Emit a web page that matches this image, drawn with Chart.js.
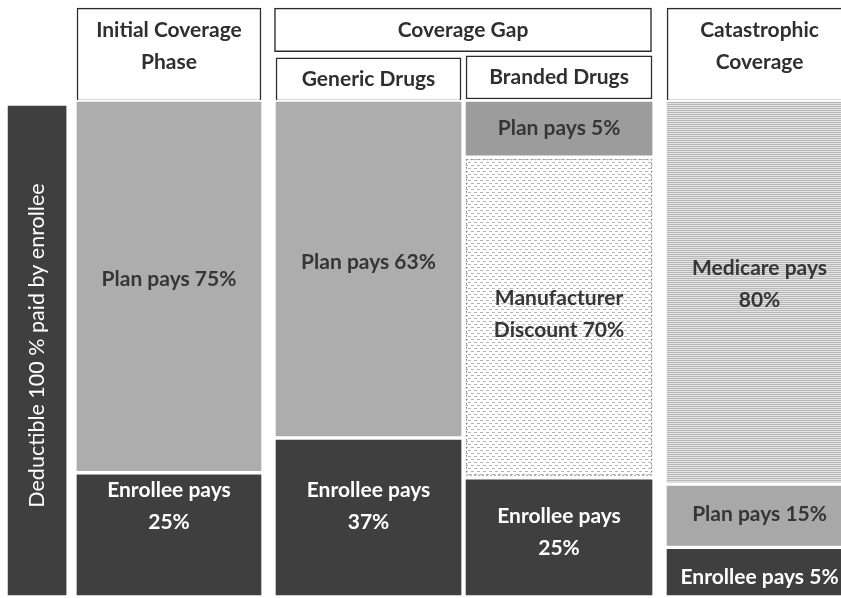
<!DOCTYPE html>
<html>
<head>
<meta charset="utf-8">
<script src="https://cdn.jsdelivr.net/npm/chart.js@4.4.0/dist/chart.umd.min.js"></script>
<style>
html, body { margin: 0; padding: 0; background: #fff; }
#wrap { width: 841px; height: 598px; position: relative; }
</style>
</head>
<body>
<div id="wrap"><canvas id="myChart"></canvas></div>
<script>
// columns, left to right
const columns = ['Deductible', 'Initial Coverage Phase', 'Generic Drugs', 'Branded Drugs', 'Catastrophic Coverage'];

// segment heights, bottom to top (share of the bar height)
const deductibleSeg = [99.2];
const initialSeg = [25, 75];
const genericSeg = [32, 68];
const brandedSeg = [24, 64.5, 11.5];
const catastrophicSeg = [10, 12.7, 77.3];

// texts written on the segments, same order
const deductibleText = [['Deductible 100 % paid by enrollee']];
const initialText = [['Enrollee pays', '25%'], ['Plan pays 75%']];
const genericText = [['Enrollee pays', '37%'], ['Plan pays 63%']];
const brandedText = [['Enrollee pays', '25%'], ['Manufacturer', 'Discount 70%'], ['Plan pays 5%']];
const catastrophicText = [['Enrollee pays 5%'], ['Plan pays 15%'], ['Medicare pays', '80%']];

// header boxes above the bars
const headerText = [['Initial Coverage', 'Phase'], ['Coverage Gap'], ['Generic Drugs'], ['Branded Drugs'], ['Catastrophic', 'Coverage']];
const headerRange = [[99.8, 118.5], [109.7, 118.5], [99.8, 108.5], [100.2, 108.9], [99.8, 118.5]];

// layout (column centres on the x scale, widths in px)
const colX = [0.327, 1, 2.018, 2.99, 4.013];
const colW = [58, 184, 185, 186, 185];
const gapX = 2.5;   // Coverage Gap header sits over generic + branded
const gapW = 377;

function makePattern(w, h, paint) {
    const c = document.createElement('canvas');
    c.width = w; c.height = h;
    const g = c.getContext('2d');
    paint(g);
    return g.createPattern(c, 'repeat');
}

const fills = {
    dark: '#3f3f3f',
    plan: '#adadad',
    plan5: '#9c9c9c',
    plan15: '#a8a8a8',
    mfr: makePattern(12, 6, g => {
        g.fillStyle = '#fff'; g.fillRect(0, 0, 12, 6);
        g.fillStyle = '#b4b4b4';
        g.fillRect(0, 0, 3, 1); g.fillRect(6, 0, 3, 1);
        g.fillRect(3, 3, 3, 1); g.fillRect(9, 3, 3, 1);
    }),
    medicare: makePattern(4, 2, g => {
        g.fillStyle = '#e2e2e2'; g.fillRect(0, 0, 4, 2);
        g.fillStyle = '#b8b8b8'; g.fillRect(0, 0, 4, 1);
    })
};

const datasets = [];

function addColumn(i, segs, texts, kinds, fracs) {
    let base = 0;
    segs.forEach((h, k) => {
        const kind = kinds[k];
        datasets.push({
            data: [{ x: colX[i], y: [base, base + h] }],
            backgroundColor: fills[kind],
            borderColor: '#ffffff',
            borderWidth: 2,
            borderSkipped: false,
            barThickness: colW[i] + 4,
            grouped: false,
            lines: texts[k],
            textColor: kind === 'dark' ? '#ffffff' : '#363636',
            textBold: i !== 0,
            rotate: i === 0,
            frac: fracs[k],
            dashed: kind === 'mfr'
        });
        base += h;
    });
}

addColumn(0, deductibleSeg, deductibleText, ['dark'], [0.49]);
addColumn(1, initialSeg, initialText, ['dark', 'plan'], [0.27, 0.48]);
addColumn(2, genericSeg, genericText, ['dark', 'plan'], [0.43, 0.48]);
addColumn(3, brandedSeg, brandedText, ['dark', 'mfr', 'plan5'], [0.46, 0.49, 0.49]);
addColumn(4, catastrophicSeg, catastrophicText, ['dark', 'plan15', 'medicare'], [0.6, 0.47, 0.48]);

const headerX = [colX[1], gapX, colX[2], colX[3], colX[4]];
const headerW = [colW[1], gapW, colW[2], colW[3], colW[4]];
const headerFrac = [0.41, 0.5, 0.5, 0.49, 0.41];
headerText.forEach((t, k) => {
    datasets.push({
        data: [{ x: headerX[k], y: headerRange[k] }],
        backgroundColor: '#ffffff',
        borderColor: '#2b2b2b',
        borderWidth: 1.5,
        borderSkipped: false,
        barThickness: headerW[k],
        grouped: false,
        lines: t,
        textColor: '#2f2f2f',
        textBold: true,
        frac: headerFrac[k]
    });
});

const segText = {
    id: 'segText',
    afterDatasetsDraw(chart) {
        const ctx = chart.ctx;
        chart.data.datasets.forEach((ds, i) => {
            const bar = chart.getDatasetMeta(i).data[0];
            const p = bar.getProps(['x', 'y', 'base', 'width']);
            const top = Math.min(p.y, p.base), bottom = Math.max(p.y, p.base);
            ctx.save();
            if (ds.dashed) {
                ctx.strokeStyle = '#8a8a8a';
                ctx.lineWidth = 1;
                ctx.setLineDash([2, 2]);
                ctx.strokeRect(p.x - p.width / 2 + 2.5, top + 2.5, p.width - 5, bottom - top - 5);
                ctx.setLineDash([]);
            }
            const lines = ds.lines || [];
            const lh = 32;
            const cy = top + (bottom - top) * ds.frac;
            ctx.fillStyle = ds.textColor;
            ctx.font = (ds.textBold ? 'bold ' : '') + '21px Lato';
            ctx.textAlign = 'center';
            ctx.textBaseline = 'middle';
            if (ds.rotate) {
                ctx.font = '21.5px Lato';
                ctx.translate(p.x, cy);
                ctx.rotate(-Math.PI / 2);
                ctx.fillText(lines[0], 0, 0);
            } else {
                lines.forEach((l, j) => {
                    ctx.fillText(l, p.x, cy + (j - (lines.length - 1) / 2) * lh);
                });
            }
            ctx.restore();
        });
    }
};

document.fonts.load('bold 21px Lato').then(() => document.fonts.load('21px Lato')).then(() => {
    const ctx = document.getElementById('myChart').getContext('2d');
    new Chart(ctx, {
        type: 'bar',
        data: { datasets: datasets },
        options: {
            responsive: true,
            maintainAspectRatio: false,
            animation: false,
            layout: { padding: 0 },
            plugins: { legend: { display: false }, tooltip: { enabled: false } },
            scales: {
                x: { type: 'linear', min: 0.1378, max: 4.4286, offset: false, display: false },
                y: { min: -0.2012, max: 120.12, display: false }
            }
        },
        plugins: [segText]
    });
});
</script>
</body>
</html>
